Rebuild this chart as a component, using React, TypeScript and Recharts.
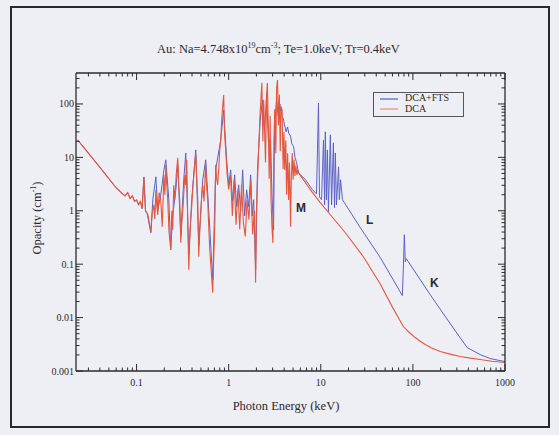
import { LineChart, Line, XAxis, YAxis } from "recharts";

// photon energy (keV) and opacity (cm^-1)
const dcaEnergy = [
  0.023, 0.03, 0.04, 0.05, 0.06, 0.068, 0.075, 0.08, 0.085, 0.09, 0.095, 0.1, 0.105, 0.11, 0.115, 0.12, 0.125, 0.13,
  0.1326, 0.1429, 0.148, 0.154, 0.158, 0.162, 0.166, 0.17, 0.176, 0.183, 0.19, 0.198, 0.203, 0.208, 0.213, 0.218,
  0.225, 0.235, 0.241, 0.247, 0.253, 0.26, 0.27, 0.28, 0.287, 0.294, 0.302, 0.31, 0.318, 0.326, 0.334, 0.342, 0.351,
  0.36, 0.369, 0.378, 0.3875, 0.397, 0.407, 0.42, 0.439, 0.45, 0.4615, 0.473, 0.485, 0.497, 0.51, 0.523, 0.54,
  0.563, 0.575, 0.592, 0.605, 0.623, 0.645, 0.671, 0.69, 0.705, 0.715, 0.723, 0.74, 0.76, 0.78, 0.799, 0.82, 0.84,
  0.86, 0.883, 0.9, 0.928, 0.96,
  1.0, 1.047, 1.096, 1.148, 1.202, 1.259, 1.318, 1.38, 1.445, 1.514, 1.585, 1.66, 1.738, 1.82, 1.905, 1.961, 2.0,
  2.089, 2.188, 2.291, 2.35, 2.399, 2.512, 2.58, 2.63, 2.7, 2.754, 2.82, 2.884, 2.95, 3.02, 3.1, 3.162, 3.25, 3.311,
  3.395, 3.467, 3.55, 3.631, 3.7, 3.802, 3.9, 3.981, 4.06, 4.169, 4.25, 4.365, 4.47, 4.571, 4.7, 4.786, 4.9, 5.012,
  5.12, 5.248, 5.37, 5.495, 5.62, 5.754,
  7.73, 9.93, 12.7, 18.5, 29, 44.4, 60, 78.7, 92, 106, 120, 136, 160, 198, 260, 326, 420, 537, 720, 1000,
];
const dcaOpacity = [
  21, 12, 6.5, 4.0, 2.7, 2.2, 1.9, 2.2, 1.7, 1.9, 1.5, 1.6, 1.3, 1.5, 1.1, 4.3, 1.0, 0.9,
  0.842, 0.405, 0.9, 1.29, 0.7, 2.47, 1.2, 0.84, 2.2, 1.61, 0.5, 4.7, 2.0, 7.2, 3.0, 1.61,
  0.4, 0.187, 1.0, 0.441, 3.0, 1.61, 5.0, 9.8, 3.0, 1.61, 0.252, 0.6, 1.04, 2.2, 4.7, 3.0, 9.0,
  0.5, 0.079, 0.3, 0.68, 1.2, 2.47, 5.0, 12.1, 4.0, 1.61, 0.138, 0.4, 0.842, 2.0, 3.06, 1.5,
  7.9, 3.0, 1.61, 0.6, 0.187, 0.08, 0.0293, 0.15, 0.441, 2.0, 7.24, 4.0, 3.06, 6.0, 13.8, 20, 50,
  90, 147, 30, 13.8, 5.0,
  2.5, 4.7, 0.8, 3.8, 0.55, 2.5, 0.45, 3.1, 0.6, 0.33, 1.6, 0.68, 3.8, 0.36, 1.0, 0.045, 0.9,
  8.0, 60, 250, 20, 120, 8.0, 150, 247, 30, 4.0, 60, 1.6, 0.5, 0.25, 20, 80, 12, 200,
  280, 40, 150, 13, 90, 77, 6.0, 30, 5.8, 21, 2.0, 12, 1.6, 8.0, 0.5, 4.0, 12, 3.8,
  9.0, 4.5, 7.0, 4.7, 5.6, 5.13,
  2.47, 1.41, 0.842, 0.388, 0.138, 0.042, 0.0157, 0.0068, 0.0052, 0.00423, 0.0036, 0.00313, 0.0027, 0.00231,
  0.00205, 0.00187, 0.00174, 0.00164, 0.00152, 0.00144,
];

const ftsEnergy = [
  0.023, 0.03, 0.04, 0.05, 0.06, 0.068, 0.075, 0.08, 0.085, 0.09, 0.095, 0.1, 0.105, 0.11, 0.115, 0.12, 0.125, 0.13,
  0.1429, 0.15, 0.162, 0.17, 0.183, 0.198, 0.2077, 0.224, 0.235, 0.247, 0.267, 0.28, 0.302, 0.3255, 0.342, 0.369,
  0.397, 0.439, 0.473, 0.523, 0.563, 0.607, 0.671, 0.723, 0.819, 0.883, 0.951,
  1.0, 1.051, 1.1, 1.161, 1.22, 1.283, 1.35, 1.418, 1.49, 1.567, 1.65, 1.731, 1.8, 1.866, 1.961, 2.05, 2.113, 2.2,
  2.335, 2.45, 2.58, 2.7, 2.851, 2.95, 3.073, 3.15, 3.311, 3.45, 3.6, 3.66, 3.8, 3.95, 4.04, 4.2, 4.36, 4.5, 4.7,
  4.85, 5.06, 5.25, 5.46, 5.74,
  6.83, 8.13, 8.98, 9.21, 9.44, 9.68, 10.2, 10.7, 11.0, 11.2, 11.5, 11.8, 12.1, 12.7, 13.1, 13.7, 14.1, 14.4,
  14.8, 15.6, 15.9, 16.4, 17.2,
  26.9, 44.4, 76.8, 78.7, 80.7, 82.7, 84.8, 154, 254, 388, 537, 690, 1000,
];
const ftsOpacity = [
  21, 12, 6.5, 4.0, 2.7, 2.2, 1.9, 2.2, 1.7, 1.9, 1.5, 1.6, 1.3, 1.5, 1.1, 4.3, 1.0, 0.9,
  0.388, 1.61, 4.32, 1.04, 1.99, 5.84, 8.98, 1.61, 0.187, 0.842, 2.47, 7.24, 0.356, 3.8, 12.1, 0.151,
  1.61, 13.8, 0.231, 3.8, 8.98, 1.04, 0.0513, 5.84, 21.2, 77, 8.98,
  3.0, 5.84, 1.5, 4.7, 1.2, 3.06, 1.0, 5.84, 0.8, 2.47, 1.2, 4.7, 0.8, 1.61, 0.079, 5.0, 13.8, 50,
  119, 30, 147, 20, 21.2, 2.0, 0.441, 40, 119, 60, 100, 77, 60, 50, 40.5, 30, 37, 28, 25,
  18, 16, 10, 8.0, 5.13,
  3.8, 2.47, 2.08, 13.8, 104, 1.83, 1.61, 21.2, 1.29, 30, 1.61, 13.8, 0.958, 26.4, 1.29, 18.7, 1.14, 12.1,
  1.29, 6.64, 1.61, 3.8, 1.61,
  0.481, 0.132, 0.0258, 0.0789, 0.356, 0.111, 0.127, 0.0269, 0.00773, 0.00275, 0.00203, 0.00171, 0.0015,
];

const xMajor = [0.1, 1, 10, 100, 1000];
const yMajor = [0.001, 0.01, 0.1, 1, 10, 100];

const dca = dcaEnergy.map((e, i) => ({ e, v: dcaOpacity[i] }));
const fts = ftsEnergy.map((e, i) => ({ e, v: ftsOpacity[i] }));

const mult = [2, 3, 4, 5, 6, 7, 8, 9];
const xTicks = [...xMajor, ...[0.01, 0.1, 1, 10, 100].flatMap((d) => mult.map((m) => m * d))].filter(
  (t) => t >= 0.022 && t <= 1000
);
const yTicks = [...yMajor, ...[0.001, 0.01, 0.1, 1, 10, 100].flatMap((d) => mult.map((m) => m * d))].filter(
  (t) => t <= 380
);

const isMajor = (v: number) => Math.abs(Math.log10(v) - Math.round(Math.log10(v))) < 1e-6;
const serif = "'Liberation Serif', 'DejaVu Serif', serif";
const ink = "#2b2b2b";

const XTick = (props: any) => {
  const { x, y, payload, top } = props;
  const major = isMajor(payload.value);
  const len = major ? 7 : 3.5;
  const dir = top ? 1 : -1;
  return (
    <g>
      <line x1={x} y1={y} x2={x} y2={y + dir * len} stroke={ink} strokeWidth={1} />
      {!top && major && (
        <text x={x} y={y + 15} textAnchor="middle" fontSize={10} fontFamily={serif} fill={ink}>
          {String(payload.value)}
        </text>
      )}
    </g>
  );
};

const YTick = (props: any) => {
  const { x, y, payload, right } = props;
  const major = isMajor(payload.value);
  const len = major ? 7 : 3.5;
  const dir = right ? -1 : 1;
  return (
    <g>
      <line x1={x} y1={y} x2={x + dir * len} y2={y} stroke={ink} strokeWidth={1} />
      {!right && major && (
        <text x={x - 2} y={y + 3.5} textAnchor="end" fontSize={10} fontFamily={serif} fill={ink}>
          {String(payload.value)}
        </text>
      )}
    </g>
  );
};

export default function App() {
  return (
    <div style={{ position: "absolute", left: 0, top: 0, width: 559, height: 435, background: "#eeeef5", fontFamily: serif }}>
      <div style={{ position: "absolute", left: 10, top: 6, width: 536, height: 418, border: "2px solid #2a2a2a" }} />
      <div style={{ position: "absolute", left: 0, top: 0 }}>
        <LineChart width={559} height={435} margin={{ top: 72, right: 53, bottom: 34, left: 16 }}>
          <XAxis
            xAxisId="b" dataKey="e" type="number" scale="log" domain={[0.022, 1000]} allowDataOverflow
            ticks={xTicks} interval={0} tickSize={0} tickMargin={0} height={30}
            axisLine={{ stroke: ink, strokeWidth: 1.3 }} tickLine={false} tick={<XTick />}
          />
          <XAxis
            xAxisId="t" orientation="top" dataKey="e" type="number" scale="log" domain={[0.022, 1000]} allowDataOverflow
            ticks={xTicks} interval={0} tickSize={0} tickMargin={0} height={1}
            axisLine={{ stroke: ink, strokeWidth: 1.3 }} tickLine={false} tick={<XTick top />}
          />
          <YAxis
            yAxisId="l" dataKey="v" type="number" scale="log" domain={[0.001, 380]} allowDataOverflow
            ticks={yTicks} interval={0} tickSize={0} tickMargin={0} width={60}
            axisLine={{ stroke: ink, strokeWidth: 1.3 }} tickLine={false} tick={<YTick />}
          />
          <YAxis
            yAxisId="r" orientation="right" dataKey="v" type="number" scale="log" domain={[0.001, 380]} allowDataOverflow
            ticks={yTicks} interval={0} tickSize={0} tickMargin={0} width={1}
            axisLine={{ stroke: ink, strokeWidth: 1.3 }} tickLine={false} tick={<YTick right />}
          />
          <Line
            xAxisId="b" yAxisId="l" data={fts} dataKey="v" type="linear" stroke="#5a62c8"
            strokeWidth={1} dot={false} isAnimationActive={false}
          />
          <Line
            xAxisId="b" yAxisId="l" data={dca} dataKey="v" type="linear" stroke="#e4573f"
            strokeWidth={1.1} dot={false} isAnimationActive={false}
          />
        </LineChart>
      </div>

      <div style={{ position: "absolute", left: 0, width: 559, top: 41, textAlign: "center", fontSize: 12.5, color: ink }}>
        <span style={{ position: "relative", left: -1 }}>
          Au: Na=4.748x10<sup style={{ fontSize: 8 }}>19</sup>cm<sup style={{ fontSize: 8 }}>-3</sup>; Te=1.0keV; Tr=0.4keV
        </span>
      </div>

      <div style={{ position: "absolute", left: 228, width: 116, top: 399, textAlign: "center", fontSize: 12.5, color: ink, whiteSpace: "nowrap" }}>
        Photon Energy (keV)
      </div>

      <div
        style={{
          position: "absolute", left: 37, top: 218, fontSize: 12.5, color: ink, whiteSpace: "nowrap",
          transform: "translate(-50%, -50%) rotate(-90deg)",
        }}
      >
        Opacity (cm<sup style={{ fontSize: 8 }}>-1</sup>)
      </div>

      <div style={{ position: "absolute", left: 373, top: 92, width: 89, height: 23, border: "1px solid #555" }}>
        <div style={{ position: "absolute", left: 6, top: 5, width: 18, height: 1.5, background: "#9098dc" }} />
        <div style={{ position: "absolute", left: 6, top: 15, width: 18, height: 1.5, background: "#f2b0aa" }} />
        <div style={{ position: "absolute", left: 31, top: -1, fontSize: 10, lineHeight: "11px", color: ink }}>
          DCA+FTS
          <br />
          DCA
        </div>
      </div>

      {[
        { t: "M", x: 296, y: 201 },
        { t: "L", x: 366, y: 213 },
        { t: "K", x: 430, y: 276 },
      ].map((a) => (
        <div
          key={a.t}
          style={{ position: "absolute", left: a.x, top: a.y, fontFamily: "'Liberation Sans', Arial, sans-serif", fontSize: 12, fontWeight: 600, color: ink }}
        >
          {a.t}
        </div>
      ))}
    </div>
  );
}
